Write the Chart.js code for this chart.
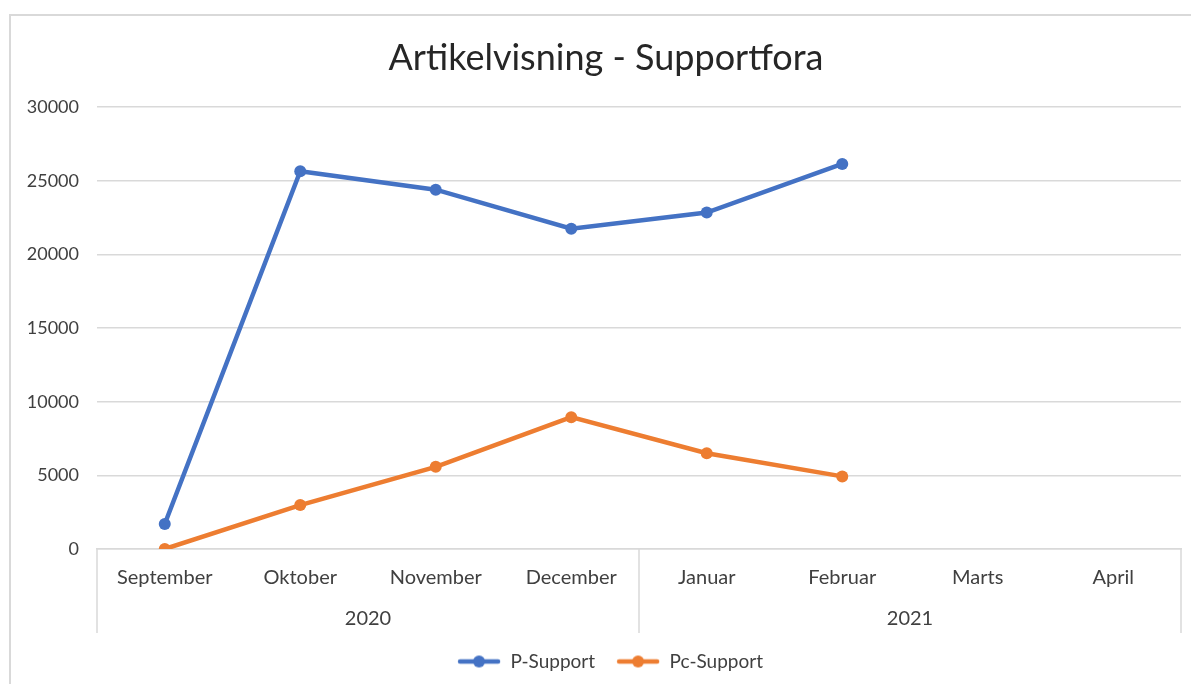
<!DOCTYPE html>
<html>
<head>
<meta charset="utf-8">
<title>Artikelvisning - Supportfora</title>
<script src="https://cdn.jsdelivr.net/npm/chart.js@4.4.0/dist/chart.umd.min.js"></script>
<style>
html, body { margin: 0; padding: 0; background: #fff; overflow: hidden; }
#frame {
  position: absolute; left: 9px; top: 14px;
  border-left: 2px solid #d9d9d9; border-top: 2px solid #d9d9d9;
  width: 1190px; height: 670px;
}
#wrap { position: absolute; left: 0; top: 0; width: 1190px; height: 668px; }
</style>
</head>
<body>
<div id="frame"><div id="wrap"><canvas id="supportChart"></canvas></div></div>
<script>
const months = ['September', 'Oktober', 'November', 'December', 'Januar', 'Februar', 'Marts', 'April'];
const years = ['2020', '2021'];
const pSupport = [1700, 25650, 24400, 21750, 22850, 26150];
const pcSupport = [0, 2980, 5580, 8950, 6500, 4930];
const yTicks = [0, 5000, 10000, 15000, 20000, 25000, 30000];

const blue = '#4472c4';
const orange = '#ed7d31';
const gridColor = '#d9d9d9';
const textColor = '#404040';
const font = 'Lato';

function legendMarker(color) {
  const c = document.createElement('canvas');
  c.width = 44; c.height = 14;
  const g = c.getContext('2d');
  g.strokeStyle = color;
  g.lineWidth = 4.5;
  g.lineCap = 'round';
  g.beginPath(); g.moveTo(3, 7); g.lineTo(41, 7); g.stroke();
  g.fillStyle = color;
  g.beginPath(); g.arc(22, 7, 6, 0, Math.PI * 2); g.fill();
  return c;
}

// vertical separators between the year groups, below the plot
const yearSeparators = {
  id: 'yearSeparators',
  afterLayout(chart) {
    // title and legend sit a bit right of the plot centre in the original
    chart.titleBlock.left += 10; chart.titleBlock.right += 10;
    chart.legend.left += 14; chart.legend.right += 14;
  },
  afterDraw(chart) {
    const x = chart.scales.x;
    const yr = chart.scales.year;
    const ctx = chart.ctx;
    const per = months.length / years.length;
    const edges = [x.left];
    for (let i = 1; i < years.length; i++) {
      edges.push((x.getPixelForValue(i * per - 1) + x.getPixelForValue(i * per)) / 2);
    }
    edges.push(x.right);
    ctx.save();
    ctx.strokeStyle = gridColor;
    ctx.lineWidth = 1.5;
    edges.forEach(px => {
      ctx.beginPath();
      ctx.moveTo(px, chart.chartArea.bottom);
      ctx.lineTo(px, yr.bottom + 2);
      ctx.stroke();
    });
    ctx.restore();
  }
};

new Chart(document.getElementById('supportChart'), {
  type: 'line',
  data: {
    labels: months,
    datasets: [
      {
        label: 'P-Support',
        data: pSupport,
        borderColor: blue,
        backgroundColor: blue,
        borderWidth: 4.5,
        pointRadius: 6,
        pointBorderWidth: 0,
        pointStyle: 'circle',
        tension: 0
      },
      {
        label: 'Pc-Support',
        data: pcSupport,
        borderColor: orange,
        backgroundColor: orange,
        borderWidth: 4.5,
        pointRadius: 6,
        pointBorderWidth: 0,
        pointStyle: 'circle',
        tension: 0
      }
    ]
  },
  options: {
    responsive: true,
    maintainAspectRatio: false,
    animation: false,
    layout: { padding: { left: 0, right: 20, top: 0, bottom: 3 } },
    scales: {
      y: {
        min: 0,
        max: 30000,
        afterFit(scale) { scale.width = 86; },
        afterBuildTicks(scale) { scale.ticks = yTicks.map(v => ({ value: v })); },
        grid: { color: gridColor, lineWidth: 1.5, drawTicks: false },
        border: { display: false },
        ticks: {
          color: textColor, padding: 18, font: { family: font, size: 18 },
          callback: v => String(v)
        }
      },
      x: {
        offset: true,
        weight: 1,
        afterFit(scale) { scale.height = 50; },
        grid: { display: false },
        border: { display: true, color: gridColor, width: 1.5 },
        ticks: { color: textColor, padding: 9, maxRotation: 0, font: { family: font, size: 20 } }
      },
      year: {
        type: 'category',
        labels: years,
        position: 'bottom',
        offset: true,
        weight: 2,
        afterFit(scale) { scale.height = 32; },
        grid: { display: false },
        border: { display: false },
        ticks: { color: textColor, padding: 0, maxRotation: 0, font: { family: font, size: 20 } }
      }
    },
    plugins: {
      title: {
        display: true,
        text: 'Artikelvisning - Supportfora',
        color: '#262626',
        font: { family: font, size: 36, weight: 'normal' },
        padding: { top: 21, bottom: 27 }
      },
      legend: {
        position: 'bottom',
        labels: {
          color: textColor,
          font: { family: font, size: 19 },
          usePointStyle: true,
          pointStyleWidth: 44,
          padding: 21,
          generateLabels(chart) {
            return chart.data.datasets.map((ds, i) => ({
              text: ds.label,
              pointStyle: legendMarker(ds.borderColor),
              fillStyle: ds.borderColor,
              strokeStyle: ds.borderColor,
              lineWidth: 0,
              fontColor: textColor,
              hidden: false,
              datasetIndex: i
            }));
          }
        }
      },
      tooltip: { enabled: false }
    }
  },
  plugins: [yearSeparators]
});
</script>
</body>
</html>
